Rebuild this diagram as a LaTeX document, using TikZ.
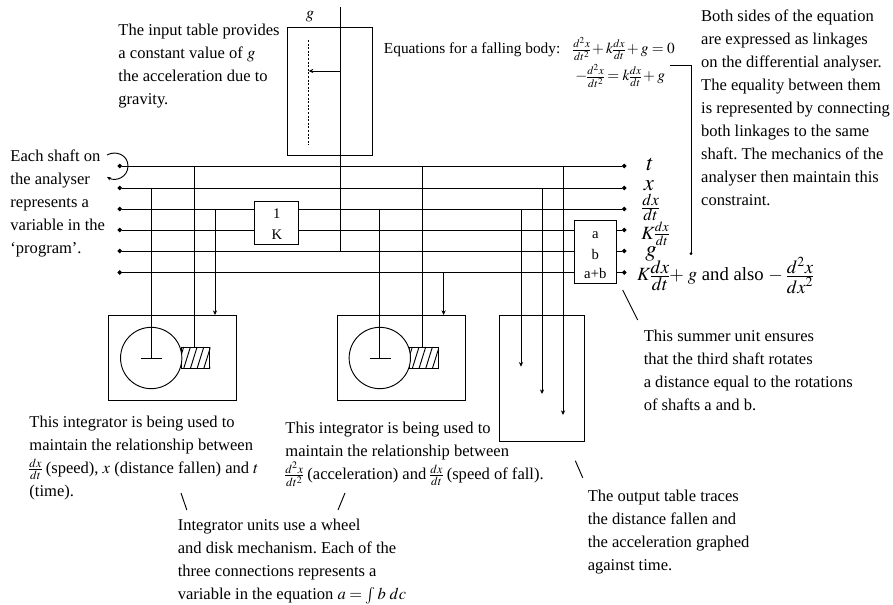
\documentclass[tikz,border=0pt]{standalone}
\usepackage{amsmath}
\usepackage{mathptmx}
\usepackage[no-math]{fontspec}
\setmainfont{Liberation Serif}
\usetikzlibrary{arrows.meta,positioning}
\AtBeginDocument{\nulldelimiterspace=0pt\frenchspacing}
\newcommand{\notefont}{\fontsize{12.4}{17.25}\selectfont}
\newcommand{\eqfont}{\fontsize{11.5}{14}\selectfont}
\newcommand{\boxfont}{\fontsize{11}{15.9}\selectfont}
\newcommand{\bigfont}{\fontsize{14}{17}\selectfont}
\newcommand{\hugefont}{\fontsize{17}{20}\selectfont}
\newcommand{\tallfrac}[2]{\frac{\textstyle #1}{\textstyle #2}}
\tikzset{
  shaft/.style={{Circle[length=3.4pt]}-{Circle[length=3.4pt]}},
  feed/.style={-{Stealth[length=3.5pt,width=3.2pt]}},
  unitbox/.style={draw, fill=white, inner sep=0pt, align=center, font=\boxfont},
  note/.style={anchor=north west, align=left, inner sep=0pt, font=\notefont},
  eqn/.style={anchor=base west, inner sep=0pt, font=\eqfont},
  varlabel/.style={inner sep=0pt, font=\bigfont},
}

\begin{document}
\begin{tikzpicture}[x=0.75pt,y=-0.75pt,line width=0.7pt]
  \useasboundingbox (0,0) rectangle (893,605);
  % the six shafts
  \foreach \s/\y in {t/166,x/188,v/209,k/230,g/251,r/272.5} {
    \coordinate (\s L) at (117.5,\y);
    \coordinate (\s R) at (626.5,\y);
    \draw[shaft] (\s L) -- (\s R);
  }
  % input table
  \node[draw, minimum width=64pt, minimum height=95.6pt] (intable) at (330,91.7) {};
  \node[note, anchor=center] (glabel) at (310,17) {$g$};
  \coordinate (gtop) at (340.7,7);
  \coordinate (gtraceA) at (308.7,40);
  \coordinate (gtraceB) at (308.7,145);
  \coordinate (ghit) at (308.7,71);
  \draw[dash pattern=on 1.5pt off 1.2pt] (gtraceA) -- (gtraceB);
  \draw (gtop) -- (gtop |- gL);
  \draw[feed] (gtop |- ghit) -- (ghit);
  % the two integrators
  \foreach \unit/\dx/\wsh/\dsh/\osh in {ia/0/x/t/v,ib/228.6/v/t/r} {
    \node[draw, minimum width=96pt, minimum height=63.75pt] (\unit) at (\dx+172.7,357.5) {};
    \node[draw, minimum width=21.6pt, minimum height=16pt, inner sep=0pt] (\unit worm) at (\dx+195.5,357.8) {};
    \begin{scope}
      \clip (\unit worm.south west) rectangle (\unit worm.north east);
      \foreach \i in {0,...,5}
        \draw (\dx+177+6.7*\i,368.5) -- (\dx+183.7+6.7*\i,347);
    \end{scope}
    \node[draw, circle, fill=white, minimum size=46pt, inner sep=0pt] (\unit wheel) at (\dx+151.2,358) {};
    \coordinate (\unit barL) at (\dx+141,358);
    \coordinate (\unit barR) at (\dx+162,358);
    \draw (\unit barL) -- (\unit barR);
    \coordinate (\unit shaft) at (\dx+194,347);
    \coordinate (\unit in) at (\dx+215,315);
    \draw (\unit wheel.center |- \wsh L) -- (\unit wheel.center);
    \draw (\unit shaft |- \dsh L) -- (\unit shaft);
    \draw[feed] (\unit in |- \osh L) -- (\unit in);
  }
  % gain and summer sit on top of the shafts
  \node[unitbox, minimum width=32.8pt, minimum height=32pt] (gain) at (276.8,222.8) {\rule{0pt}{9pt}1\\K};
  \node[unitbox, minimum width=32pt, minimum height=47pt] (summer) at (595.3,251.7) {\rule{0pt}{10pt}a\\b\\[-1.5pt]a+b};
  % output table
  \node[draw, minimum width=64pt, minimum height=95.2pt] (outtable) at (542,378.5) {};
  \coordinate (penA) at (521,366.7);
  \coordinate (penB) at (542,394);
  \coordinate (penC) at (563,415);
  \draw[feed] (penA |- vL) -- (penA);
  \draw[feed] (penB |- xL) -- (penB);
  \draw[feed] (penC |- tL) -- (penC);
  % shaft labels
  \node[varlabel, font=\hugefont] (tlabel) at (650,164.5) {$t$};
  \node[varlabel, font=\hugefont] (xlabel) at (649,186) {$x$};
  \node[varlabel, font=\notefont] (vlabel) at (650.7,207.5) {$\tallfrac{dx}{dt}$};
  \node[varlabel, anchor=west] (klabel) at (641,234) {$K\frac{dx}{dt}$};
  \node[varlabel, font=\hugefont] (glab) at (651,253.5) {$g$};
  \node[varlabel, anchor=base west] (rlabel) at (636.7,281) {$K\tallfrac{dx}{dt}{+}\;g$ and also $-\;\tallfrac{d^2x}{dx^2}$};
  % equations
  \node[eqn] (eqtitle) at (383.5,54) {Equations for a falling body:};
  \node[eqn] (eqone) at (573,54) {$\frac{d^2x}{dt^2}+k\frac{dx}{dt}+g=0$};
  \node[eqn] (eqtwo) at (575,81) {$-\frac{d^2x}{dt^2}=k\frac{dx}{dt}+g$};
  \coordinate (linkA) at (670,65.3);
  \coordinate (linkB) at (691,255);
  \draw[-{Circle[length=2pt]}] (linkA) -| (linkB);
  % notes
  \node[note] (notein) at (118,24) {The input table provides\\a constant value of $g$\\the acceleration due to\\gravity.};
  \node[note] (noteshaft) at (10,149.5) {Each shaft on\\the analyser\\represents a\\variable in the\\`program'.};
  \node[note] (noteboth) at (700.7,9.5) {Both sides of the equation\\are expressed as linkages\\on the differential analyser.\\The equality between them\\is represented by connecting\\both linkages to the same\\shaft. The mechanics of the\\analyser then maintain this\\constraint.};
  \node[note] (notesum) at (643.3,330) {This summer unit ensures\\that the third shaft rotates\\a distance equal to the rotations\\of shafts a and b.};
  \node[note] (noteout) at (587.3,490) {The output table traces\\the distance fallen and\\the acceleration graphed\\against time.};
  \node[note] (noteia) at (29,416) {This integrator is being used to\\maintain the relationship between\\$\frac{dx}{dt}$ (speed), $x$ (distance fallen) and $t$\\(time).};
  \node[note] (noteib) at (285,422) {This integrator is being used to\\maintain the relationship between\\$\frac{d^2x}{dt^2}$ (acceleration) and $\frac{dx}{dt}$ (speed of fall).};
  \node[note] (noteunits) at (177.3,519) {Integrator units use a wheel\\and disk mechanism. Each of the\\three connections represents a\\variable in the equation $a=\int b\;dc$};
  % pointers
  \coordinate (ptsumA) at (622.7,290);
  \coordinate (ptsumB) at (637.7,320);
  \coordinate (ptoutA) at (575.3,460.7);
  \coordinate (ptoutB) at (582.7,477.7);
  \coordinate (ptiaA) at (181,493);
  \coordinate (ptiaB) at (186.8,510);
  \coordinate (ptibA) at (345,493);
  \coordinate (ptibB) at (338,510);
  \draw (ptsumA) -- (ptsumB);
  \draw (ptoutA) -- (ptoutB);
  \draw (ptiaA) -- (ptiaB);
  \draw (ptibA) -- (ptibB);
  % rotation mark on the first shaft
  \coordinate (rotA) at (107,155);
  \coordinate (rotB) at (107,177);
  \draw[-{Stealth[length=3pt,width=2.6pt]}] (rotA) .. controls (116,150) and (128,155) .. (128,166) .. controls (128,177) and (116,182) .. (rotB);
\end{tikzpicture}
\end{document}
